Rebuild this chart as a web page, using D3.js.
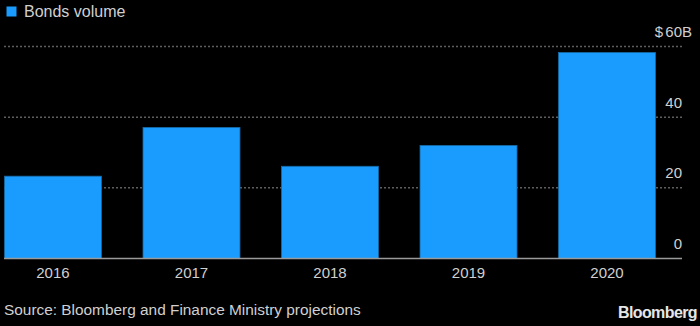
<!DOCTYPE html>
<html>
<head>
<meta charset="utf-8">
<script src="https://cdn.jsdelivr.net/npm/d3@7"></script>
<style>
  body { margin: 0; background: #000; }
  text { font-family: "Liberation Sans", Arial, sans-serif; }
</style>
</head>
<body>
<div id="chart"></div>
<script>
var years = ["2016", "2017", "2018", "2019", "2020"];
var volume = [23.3, 37.1, 26.1, 32.0, 58.3];
var yTicks = [0, 20, 40, 60];
var legendLabel = "Bonds volume";
var sourceText = "Source: Bloomberg and Finance Ministry projections";

var width = 700, height = 326;
var svg = d3.select("#chart").append("svg")
    .attr("width", width)
    .attr("height", height)
    .style("background", "#000");

var xScale = d3.scaleBand()
    .domain(years)
    .range([4.5, 655.5])
    .paddingInner(0.3)
    .paddingOuter(0);

var yScale = d3.scaleLinear()
    .domain([0, 60])
    .range([258.5, 46.5]);

// gridlines
svg.selectAll(".grid")
    .data(yTicks.filter(d => d > 0))
    .enter().append("line")
    .attr("class", "grid")
    .attr("x1", 4).attr("x2", 682)
    .attr("y1", d => yScale(d)).attr("y2", d => yScale(d))
    .attr("stroke", "#5e5e5e")
    .attr("stroke-width", 1.5)
    .attr("stroke-dasharray", "2,2");

// bars
svg.selectAll(".bar")
    .data(volume)
    .enter().append("rect")
    .attr("class", "bar")
    .attr("x", (d, i) => xScale(years[i]))
    .attr("width", xScale.bandwidth())
    .attr("y", d => yScale(d))
    .attr("height", d => yScale(0) - yScale(d))
    .attr("fill", "#1a9cfe")
    .attr("stroke", "#176aa6")
    .attr("stroke-width", 0.8);

// baseline
svg.append("line")
    .attr("x1", 4).attr("x2", 682)
    .attr("y1", yScale(0)).attr("y2", yScale(0))
    .attr("stroke", "#9a9a9a")
    .attr("stroke-width", 1.5);

// y labels
var yLab = svg.selectAll(".ylab")
    .data(yTicks)
    .enter().append("g")
    .attr("class", "ylab")
    .attr("transform", d => "translate(682," + (yScale(d) - 9.5) + ")");
yLab.append("text")
    .attr("text-anchor", "end")
    .attr("fill", "#d0d0d0")
    .style("font-size", "15px")
    .text(d => d);
yLab.filter(d => d === 60).append("text")
    .attr("x", 0)
    .attr("fill", "#d0d0d0")
    .style("font-size", "15px")
    .text("B");
yLab.filter(d => d === 60).append("text")
    .attr("x", -19)
    .attr("fill", "#d0d0d0")
    .style("font-size", "15px")
    .attr("text-anchor", "end")
    .text("$");

// x labels
svg.selectAll(".xlab")
    .data(years)
    .enter().append("text")
    .attr("class", "xlab")
    .attr("x", d => xScale(d) + xScale.bandwidth() / 2)
    .attr("y", 278)
    .attr("text-anchor", "middle")
    .attr("fill", "#d0d0d0")
    .style("font-size", "15px")
    .text(d => d);

// legend
svg.append("rect")
    .attr("x", 6.5).attr("y", 6.5)
    .attr("width", 10).attr("height", 10)
    .attr("fill", "#1a9cfe");
svg.append("text")
    .attr("x", 24).attr("y", 17)
    .attr("fill", "#d0d0d0")
    .style("font-size", "16px")
    .text(legendLabel);

// source
svg.append("text")
    .attr("x", 4).attr("y", 315)
    .attr("fill", "#d0d0d0")
    .style("font-size", "15.4px")
    .text(sourceText);

svg.append("text")
    .attr("x", 697).attr("y", 318)
    .attr("text-anchor", "end")
    .attr("fill", "#e6e6e6")
    .style("font-size", "16px")
    .style("font-weight", "bold")
    .style("letter-spacing", "-0.6px")
    .text("Bloomberg");
</script>
</body>
</html>
